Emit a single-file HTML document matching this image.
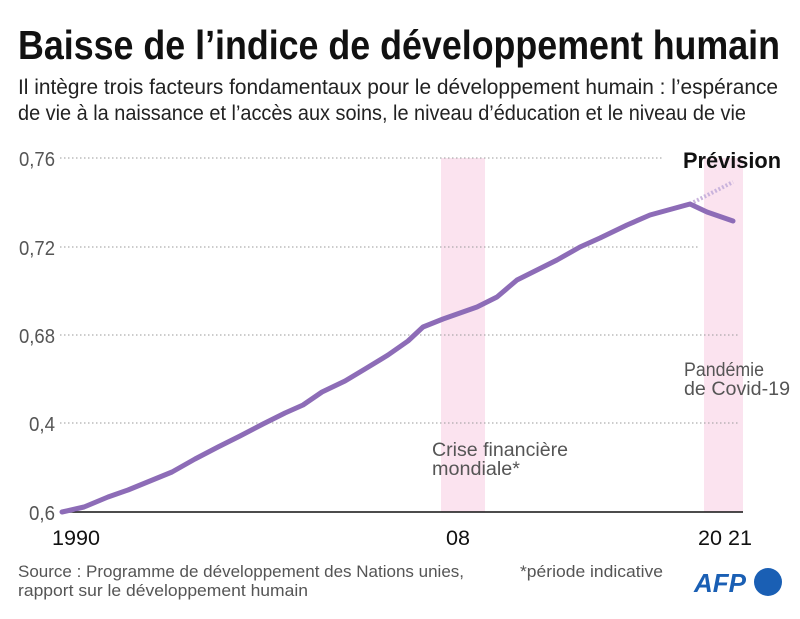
<!DOCTYPE html>
<html><head><meta charset="utf-8"><style>
body{margin:0;background:#fff;width:800px;height:614px;overflow:hidden;font-family:"Liberation Sans",sans-serif;}
</style></head><body>
<svg width="800" height="614" xmlns="http://www.w3.org/2000/svg" font-family="Liberation Sans, sans-serif">
<text x="18" y="59" font-size="41" font-weight="bold" fill="#111" textLength="762" lengthAdjust="spacingAndGlyphs">Baisse de l’indice de développement humain</text>
<text x="18" y="94" font-size="21" fill="#222" textLength="760" lengthAdjust="spacingAndGlyphs">Il intègre trois facteurs fondamentaux pour le développement humain : l’espérance</text>
<text x="18" y="120" font-size="21" fill="#222" textLength="728" lengthAdjust="spacingAndGlyphs">de vie à la naissance et l’accès aux soins, le niveau d’éducation et le niveau de vie</text>
<rect x="441" y="158" width="44" height="354" fill="#fbe3ef"/>
<rect x="704" y="158" width="39" height="354" fill="#fbe3ef"/>
<g stroke="#999" stroke-width="1" stroke-dasharray="1.5,2.5">
<line x1="60" y1="158" x2="663" y2="158"/>
<line x1="60" y1="247" x2="700" y2="247"/>
<line x1="60" y1="335" x2="740" y2="335"/>
<line x1="60" y1="423" x2="740" y2="423"/>
</g>
<line x1="60" y1="512" x2="743" y2="512" stroke="#111" stroke-width="1.5"/>
<g font-size="20" fill="#555">
<text x="19" y="166" textLength="36" lengthAdjust="spacingAndGlyphs">0,76</text>
<text x="19" y="255" textLength="36" lengthAdjust="spacingAndGlyphs">0,72</text>
<text x="19" y="343" textLength="36" lengthAdjust="spacingAndGlyphs">0,68</text>
<text x="29" y="431" textLength="26" lengthAdjust="spacingAndGlyphs">0,4</text>
<text x="29" y="520" textLength="26" lengthAdjust="spacingAndGlyphs">0,6</text>
</g>
<g font-size="21" fill="#111">
<text x="52" y="545" textLength="48" lengthAdjust="spacingAndGlyphs">1990</text>
<text x="446" y="545" textLength="24" lengthAdjust="spacingAndGlyphs">08</text>
<text x="698" y="545" textLength="24" lengthAdjust="spacingAndGlyphs">20</text>
<text x="728" y="545" textLength="24" lengthAdjust="spacingAndGlyphs">21</text>
</g>
<text x="683" y="168" font-size="22" font-weight="bold" fill="#111" textLength="98" lengthAdjust="spacingAndGlyphs">Prévision</text>
<g font-size="19" fill="#555">
<text x="684" y="376" textLength="80" lengthAdjust="spacingAndGlyphs">Pandémie</text>
<text x="684" y="395" textLength="106" lengthAdjust="spacingAndGlyphs">de Covid-19</text>
<text x="432" y="456" textLength="136" lengthAdjust="spacingAndGlyphs">Crise financière</text>
<text x="432" y="475" textLength="88" lengthAdjust="spacingAndGlyphs">mondiale*</text>
</g>
<line x1="690" y1="204" x2="733" y2="182" stroke="#c9b3dc" stroke-width="4" stroke-dasharray="2,2"/>
<polyline fill="none" stroke="#8d6cb7" stroke-width="5" stroke-linejoin="round" stroke-linecap="round" points="62,512 84,507 108,497 128,490 150,481 172,472 195,459 218,447 240,436 263,424 285,413 303,405 322,392 345,381 365,369 388,355 408,341 423,327 443,319 477,307 497,297 517,280 557,260 580,247 600,238 627,225 650,215 690,204 707,212 733,221"/>
<g font-size="17" fill="#555">
<text x="18" y="577" textLength="446" lengthAdjust="spacingAndGlyphs">Source : Programme de développement des Nations unies,</text>
<text x="18" y="596" textLength="290" lengthAdjust="spacingAndGlyphs">rapport sur le développement humain</text>
<text x="520" y="577" textLength="143" lengthAdjust="spacingAndGlyphs">*période indicative</text>
</g>
<text x="694" y="592" font-size="26" font-weight="bold" font-style="italic" fill="#1a5fb4">AFP</text>
<circle cx="768" cy="582" r="14" fill="#1a5fb4"/>
</svg>
</body></html>
